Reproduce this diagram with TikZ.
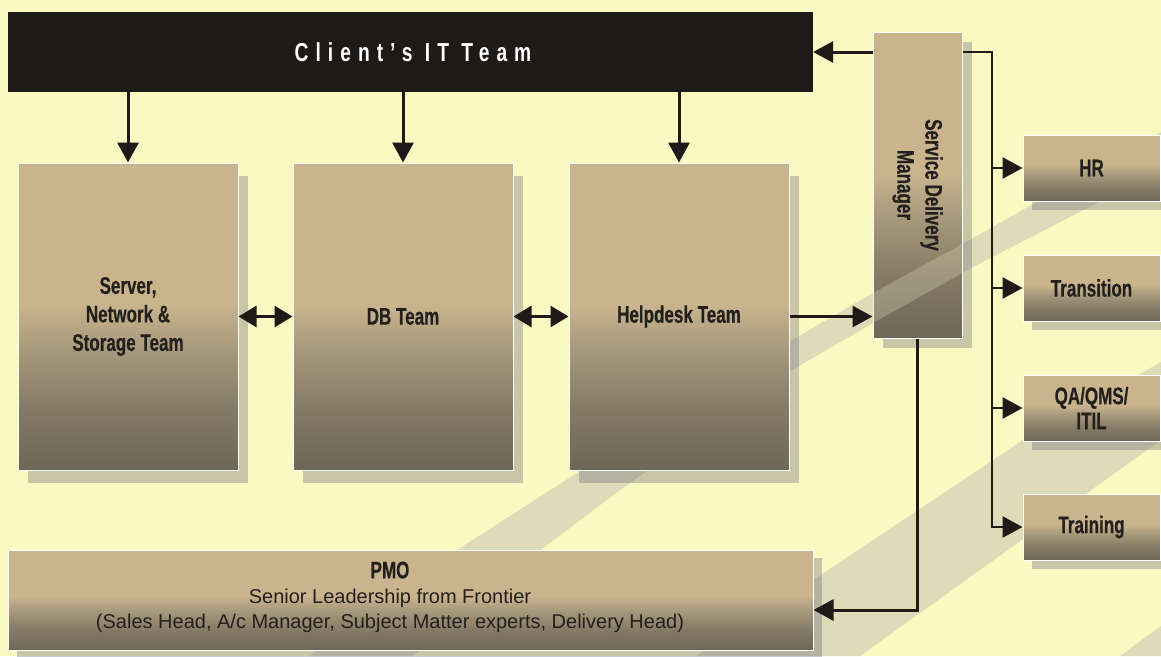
\documentclass[tikz,border=0pt]{standalone}
\usepackage{fontspec}
\setmainfont{Liberation Sans}
\newfontfamily\condsf[FakeStretch=0.71,FakeBold=0.4]{Liberation Sans}
\newfontfamily\plainsf{Liberation Sans}
\newfontfamily\spacedsf[FakeStretch=0.74,LetterSpace=27]{Liberation Sans}
\usetikzlibrary{arrows.meta,shadows}
\definecolor{bgc}{RGB}{250,249,193}
\definecolor{bandc}{RGB}{222,220,184}
\definecolor{shadowc}{RGB}{83,86,112}
\definecolor{tanc}{RGB}{201,180,142}
\definecolor{midhi}{RGB}{168,154,124}
\definecolor{midlo}{RGB}{133,122,102}
\definecolor{darkc}{RGB}{110,102,86}
\definecolor{inkc}{RGB}{35,31,28}
\definecolor{topc}{RGB}{30,26,24}
\pgfdeclareverticalshading{boxshade}{100bp}{color(0bp)=(darkc); color(25bp)=(darkc); color(35bp)=(midlo); color(45bp)=(midhi); color(52bp)=(tanc); color(100bp)=(tanc)}
\begin{document}
\begin{tikzpicture}[x=1pt,y=-1pt,
  box/.style={draw=white,line width=1pt,shade,shading=boxshade,text=inkc,align=center,
    font=\condsf\bfseries\fontsize{24}{28.5}\selectfont},
  team/.style={box,minimum width=220pt,minimum height=307pt,
    drop shadow={shadow xshift=10pt,shadow yshift=-13pt,fill=shadowc,opacity=.3}},
  side/.style={box,minimum width=137pt,minimum height=66pt,
    drop shadow={shadow xshift=9pt,shadow yshift=-9pt,fill=shadowc,opacity=.3}},
  arr/.style={-{Triangle[length=20pt,width=21pt]},line width=3pt,draw=topc},
  dbl/.style={{Triangle[length=18pt,width=21pt]}-{Triangle[length=18pt,width=21pt]},line width=3pt,draw=topc}]
  \useasboundingbox (0,0) rectangle (1161,656);
  \fill[bgc] (0,0) rectangle (1161,656);
  \fill[bandc] (310,656) -- (460,548) -- (577,473) -- (780,347) -- (873,293) -- (973,238) -- (1161,132)
    -- (1161,170) -- (973,267) -- (873,323) -- (780,377) -- (620,490) -- (543,548) -- (413,656) -- cycle;
  \fill[bandc] (696,656) -- (813,580) -- (1023,440) -- (1161,362) -- (1161,440) -- (860,656) -- cycle;
  \fill[bandc] (1120,656) -- (1161,626) -- (1161,656) -- cycle;
  \node[fill=topc,minimum width=805pt,minimum height=80pt,text=white,
    font=\spacedsf\bfseries\fontsize{26}{30}\selectfont] (client) at (410.5,52) {\hspace*{5pt}Client’s IT Team};
  \node[team] (srv) at (128,316.5) {Server,\\Network \&\\Storage Team};
  \node[team] (db) at (403,316.5) {DB Team};
  \node[team] (help) at (679,316.5) {Helpdesk Team};
  \node[box,minimum width=89pt,minimum height=306pt,
    drop shadow={shadow xshift=10pt,shadow yshift=-10pt,fill=shadowc,opacity=.3}] (sdm) at (917.5,185) {};
  \begin{scope}
    \clip (sdm.south west) rectangle (sdm.north east);
    \fill[bandc,opacity=.3] (780,347) -- (873,293) -- (973,238) -- (973,267) -- (873,323) -- (780,377) -- cycle;
  \end{scope}
  \node[text=inkc,rotate=-90,align=center,font=\condsf\bfseries\fontsize{24}{28}\selectfont] (sdmlab) at (sdm.center) {Service Delivery\\Manager};
  \node[side] (hr) at (1091.5,168) {HR};
  \node[side] (trans) at (1091.5,288) {Transition};
  \node[side,font=\condsf\bfseries\fontsize{24}{25}\selectfont] (qa) at (1091.5,408) {QA/QMS/\\ITIL};
  \node[side] (train) at (1091.5,527) {Training};
  \node[box,minimum width=805pt,minimum height=100pt,
    drop shadow={shadow xshift=9pt,shadow yshift=-8pt,fill=shadowc,opacity=.3}] (pmo) at (410.5,600) {};
  \node[text=inkc,align=center,font=\plainsf\fontsize{20}{25}\selectfont] (pmolab) at (390,597)
    {{\condsf\bfseries\fontsize{24}{25}\selectfont PMO}\\Senior Leadership from Frontier\\(Sales Head, A/c Manager, Subject Matter experts, Delivery Head)};
  \draw[arr] (client.south -| srv.north) -- (srv.north);
  \draw[arr] (client.south -| db.north) -- (db.north);
  \draw[arr] (client.south -| help.north) -- (help.north);
  \draw[dbl] (srv) -- (db);
  \draw[dbl] (db) -- (help);
  \draw[arr] (help.east) -- (help.east -| sdm.west);
  \draw[arr] (client.east -| sdm.west) -- (client.east);
  \coordinate (bus) at (992,52);
  \draw[arr,line width=2.8pt] (client.east -| sdm.east) -- (bus) |- (train.west);
  \foreach \b in {hr,trans,qa}
    \draw[arr,line width=2.8pt] (bus |- \b.west) -- (\b.west);
  \draw[arr] (sdm.south) |- ([yshift=-10pt]pmo.east);
\end{tikzpicture}
\end{document}
